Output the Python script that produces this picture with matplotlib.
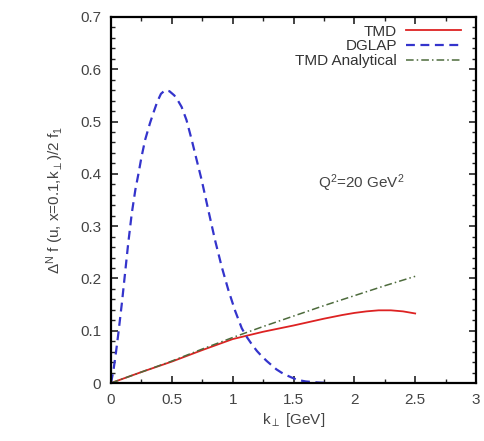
import matplotlib
matplotlib.use("Agg")
import matplotlib.pyplot as plt
from matplotlib.ticker import MultipleLocator

plt.rcParams['font.family'] = ['Liberation Sans', 'DejaVu Sans']
plt.rcParams['mathtext.fontset'] = 'custom'
plt.rcParams['mathtext.rm'] = 'Liberation Sans'
plt.rcParams['mathtext.it'] = 'Liberation Sans'

# Sivers function ratio vs transverse momentum, x = 0.1, Q^2 = 20 GeV^2
k_tmd = [0.0, 0.25, 0.5, 0.75, 1.0, 1.25, 1.5, 1.75, 1.9, 2.0, 2.1, 2.2,
         2.3, 2.4, 2.5]
f_tmd = [0.0, 0.021, 0.041, 0.063, 0.084, 0.098, 0.110, 0.123, 0.130, 0.134,
         0.137, 0.139, 0.139, 0.137, 0.133]

k_dglap = [0.0, 0.02, 0.04, 0.06, 0.09, 0.115, 0.14, 0.17, 0.2, 0.225, 0.25,
           0.28, 0.32, 0.35, 0.38, 0.41, 0.444, 0.48, 0.52, 0.55, 0.58, 0.62,
           0.663, 0.7, 0.745, 0.8, 0.855, 0.91, 0.964, 1.02, 1.074, 1.11,
           1.16, 1.2, 1.24, 1.28, 1.32, 1.36, 1.4, 1.44, 1.49, 1.53, 1.6,
           1.7, 1.8]
f_dglap = [0.0, 0.025, 0.058, 0.095, 0.155, 0.21, 0.265, 0.324, 0.37, 0.40,
           0.432, 0.465, 0.497, 0.518, 0.538, 0.553, 0.56, 0.558, 0.55, 0.54,
           0.528, 0.503, 0.465, 0.43, 0.388, 0.33, 0.273, 0.222, 0.178,
           0.138, 0.105, 0.09, 0.073, 0.061, 0.051, 0.042, 0.034, 0.026,
           0.02, 0.015, 0.01, 0.006, 0.003, 0.001, 0.0]

k_analytic = [0.0, 0.25, 0.5, 0.75, 1.0, 1.25, 1.5, 1.75, 2.0, 2.25, 2.5]
f_analytic = [0.0, 0.021, 0.042, 0.065, 0.087, 0.108, 0.128, 0.148, 0.167,
              0.186, 0.204]

fig = plt.figure(figsize=(4.85, 4.41), dpi=100)
ax = fig.add_axes([0.229, 0.1315, 0.7524, 0.83])

ax.plot(k_tmd, f_tmd, color='#dd2222', lw=1.3, label='TMD')
ax.plot(k_dglap, f_dglap, color='#3434cc', lw=1.6, ls=(0, (4, 2.5)),
        label='DGLAP')
ax.plot(k_analytic, f_analytic, color='#4d6b3c', lw=1.1,
        ls=(0, (5, 2, 1, 2)), label='TMD Analytical')

ax.set_xlim(0, 3)
ax.set_ylim(0, 0.7)
ax.xaxis.set_minor_locator(MultipleLocator(0.25))
ax.yaxis.set_minor_locator(MultipleLocator(0.02))
ax.set_xticks([0, 0.5, 1, 1.5, 2, 2.5, 3])
ax.set_xticklabels(['0', '0.5', '1', '1.5', '2', '2.5', '3'])
ax.set_yticks([0, 0.1, 0.2, 0.3, 0.4, 0.5, 0.6, 0.7])
ax.set_yticklabels(['0', '0.1', '0.2', '0.3', '0.4', '0.5', '0.6', '0.7'])
ax.tick_params(which='both', direction='in', top=True, right=True,
               labelsize=11, colors='#222222', labelcolor='#444444')
ax.tick_params(which='major', length=5, width=1.2, pad=7)
ax.tick_params(which='minor', length=3, width=1.0)
for s in ax.spines.values():
    s.set_linewidth(1.6)

ax.set_xlabel(r'k$_\perp$ [GeV]', fontsize=11, color='#444444', labelpad=3)
ax.set_ylabel(r'$\Delta^N$ f (u, x=0.1,k$_\perp$)/2 f$_1$', fontsize=11,
              color='#444444', labelpad=10)

ax.text(1.70, 0.382, r'Q$^2$=20 GeV$^2$', fontsize=11, color='#444444',
        va='center', ha='left')

leg = ax.legend(loc='upper right', frameon=False, markerfirst=False,
                fontsize=11, handlelength=3.6, handletextpad=0.6,
                labelspacing=0.05, borderaxespad=0.1,
                bbox_to_anchor=(0.98, 1.0))
for t in leg.get_texts():
    t.set_color('#333333')
    t.set_ha('right')

fig.savefig('out.png', dpi=100)
